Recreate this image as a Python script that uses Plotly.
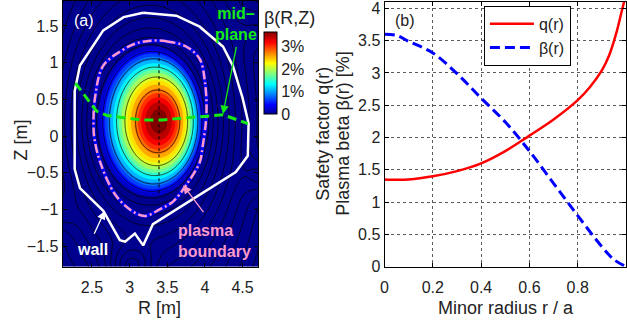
import numpy as np
import plotly.graph_objects as go

# ---------------- data ----------------
# right panel profiles
r_q = [0, 0.05, 0.1, 0.2, 0.3, 0.4, 0.5, 0.6, 0.7, 0.8, 0.85, 0.9, 0.93, 0.96, 0.98, 0.995]
q_vals = [1.35, 1.345, 1.35, 1.40, 1.48, 1.60, 1.79, 2.03, 2.28, 2.58, 2.78, 3.04, 3.27, 3.62, 3.92, 4.15]
r_beta = [0, 0.05, 0.1, 0.2, 0.3, 0.4, 0.5, 0.6, 0.7, 0.8, 0.9, 0.95, 1.0]
beta_vals = [3.60, 3.58, 3.49, 3.31, 2.99, 2.61, 2.24, 1.79, 1.29, 0.79, 0.31, 0.11, 0.0]

# left panel geometry (R, Z in m)
wall_R = [3.18, 3.62, 3.93, 4.24, 4.37, 4.50, 4.58, 4.57, 4.41, 3.80, 3.40, 3.31, 3.18, 3.07,
          2.94, 2.87, 2.65, 2.34, 2.27, 2.27, 2.34, 2.65, 2.92, 3.18]
wall_Z = [1.68, 1.64, 1.49, 1.22, 0.96, 0.52, 0.17, -0.27, -0.49, -0.88, -1.14, -1.20, -1.49, -1.33,
          -1.44, -1.42, -1.02, -0.71, -0.45, 0.61, 0.96, 1.44, 1.62, 1.68]
bnd_R = [3.28, 3.49, 3.75, 3.93, 4.00, 4.02, 3.97, 3.93, 3.75, 3.58, 3.40, 3.20, 3.03, 2.81,
         2.61, 2.53, 2.52, 2.54, 2.65, 2.92, 3.08, 3.28]
bnd_Z = [1.30, 1.29, 1.22, 1.05, 0.74, 0.30, -0.14, -0.36, -0.67, -0.89, -1.00, -1.09, -1.02, -0.80,
         -0.36, -0.02, 0.20, 0.52, 0.96, 1.18, 1.26, 1.30]
mid_R = [2.28, 2.56, 2.70, 3.14, 3.44, 3.97, 4.24, 4.57]
mid_Z = [0.72, 0.34, 0.28, 0.22, 0.22, 0.26, 0.29, 0.17]

# flux-surface model parameters (magnetic axis, boundary centre, minor radius, elongation)
R_AX, Z_AX = 3.39, 0.20
R_BC = 3.27
A_MIN = 0.76
KAPPA = 1.45
coils = [(3.02, -1.80, -0.70, 0.28), (4.80, -0.55, -0.50, 0.25), (4.82, 1.50, -0.40, 0.30),
         (2.02, -1.05, -0.35, 0.22)]

R_RANGE = [2.11, 4.71]
Z_RANGE = [-1.78, 1.84]

# ---------------- build the beta(R,Z) map from the beta(r) profile ----------------
Rg = np.linspace(R_RANGE[0], R_RANGE[1], 221)
Zg = np.linspace(Z_RANGE[0], Z_RANGE[1], 309)
RR, ZZ = np.meshgrid(Rg, Zg)


def f_ell(rho):
    rr = np.minimum(rho, 1.0)
    rc = R_AX + (R_BC - R_AX) * rr ** 2
    kap = KAPPA + 0.6 * np.maximum(rho - 1.0, 0.0)
    return ((RR - rc) / (A_MIN * rho)) ** 2 + ((ZZ - Z_AX) / (kap * A_MIN * rho)) ** 2 - 1.0


lo = np.full(RR.shape, 1e-4)
hi = np.full(RR.shape, 5.0)
for _ in range(45):
    mid = 0.5 * (lo + hi)
    out = f_ell(mid) > 0
    lo = np.where(out, mid, lo)
    hi = np.where(out, hi, mid)
rho = 0.5 * (lo + hi)

beta_map = np.where(rho <= 1.0, np.interp(rho, r_beta, beta_vals), 0.0)

psi = np.where(rho <= 1.0, rho ** 2, 1.0 + 2.0 * np.log(np.maximum(rho, 1e-6)))
outside_w = np.clip((rho - 1.0) / 0.15, 0, 1)
for (rc_, zc_, amp, sig) in coils:
    psi = psi + outside_w * amp * np.exp(-((RR - rc_) ** 2 + (ZZ - zc_) ** 2) / sig ** 2)

jet = [[0.0, 'rgb(0,0,143)'], [0.111, 'rgb(0,0,255)'], [0.365, 'rgb(0,255,255)'],
       [0.619, 'rgb(255,255,0)'], [0.873, 'rgb(255,0,0)'], [1.0, 'rgb(128,0,0)']]
CMAX = 3.65

FONT = 'Liberation Sans, Arial, Helvetica, sans-serif'
GREEN = 'rgb(20,235,20)'
PINK = '#FF99CC'

fig = go.Figure()

fig.add_trace(go.Contour(
    x=Rg, y=Zg, z=beta_map, xaxis='x', yaxis='y',
    colorscale=jet, zmin=0, zmax=CMAX, showscale=False,
    contours=dict(start=0.2, end=3.4, size=0.2, showlines=False, coloring='fill'),
    line=dict(width=0), hoverinfo='skip'))

fig.add_trace(go.Contour(
    x=Rg, y=Zg, z=psi, xaxis='x', yaxis='y',
    colorscale=[[0, 'black'], [1, 'black']], showscale=False,
    contours=dict(start=0.15, end=4.0, size=0.15, coloring='lines'),
    line=dict(width=0.7), hoverinfo='skip'))

# colorbar carrier
fig.add_trace(go.Scatter(
    x=[R_AX], y=[Z_AX], xaxis='x', yaxis='y', mode='markers', hoverinfo='skip', showlegend=False,
    marker=dict(size=1, opacity=0, color=[0], cmin=0, cmax=CMAX, colorscale=jet, showscale=True,
                colorbar=dict(x=262 / 627, xanchor='left', y=1 - 74.5 / 328, yanchor='middle',
                              len=85 / 328, lenmode='fraction', thickness=13, thicknessmode='pixels',
                              xpad=0, ypad=0, outlinecolor='black', outlinewidth=1,
                              tickvals=[0, 1, 2, 3], ticktext=['0', '1%', '2%', '3%'],
                              ticks='', tickfont=dict(size=16, color='#222', family=FONT)))))

# axis crosshair
fig.add_trace(go.Scatter(x=[R_AX, R_AX], y=[-0.78, 1.18], xaxis='x', yaxis='y', mode='lines',
                         line=dict(color='black', width=1, dash='dot'), showlegend=False, hoverinfo='skip'))

# wall
fig.add_trace(go.Scatter(x=wall_R, y=wall_Z, xaxis='x', yaxis='y', mode='lines',
                         line=dict(color='white', width=2.5), showlegend=False, hoverinfo='skip'))
# plasma boundary
fig.add_trace(go.Scatter(x=bnd_R, y=bnd_Z, xaxis='x', yaxis='y', mode='lines', line_shape='spline',
                         line=dict(color='rgb(0,0,255)', width=3.5), showlegend=False, hoverinfo='skip'))
fig.add_trace(go.Scatter(x=bnd_R, y=bnd_Z, xaxis='x', yaxis='y', mode='lines', line_shape='spline',
                         line=dict(color=PINK, width=2.5, dash='9px,3px,2px,3px'),
                         showlegend=False, hoverinfo='skip'))
# mid-plane
fig.add_trace(go.Scatter(x=mid_R, y=mid_Z, xaxis='x', yaxis='y', mode='lines',
                         line=dict(color=GREEN, width=3, dash='9px,5px'), showlegend=False, hoverinfo='skip'))

# right panel
fig.add_trace(go.Scatter(x=r_q, y=q_vals, xaxis='x2', yaxis='y2', mode='lines', name='q(r)',
                         line=dict(color='rgb(255,0,0)', width=2.5, shape='spline'), hoverinfo='skip'))
fig.add_trace(go.Scatter(x=r_beta, y=beta_vals, xaxis='x2', yaxis='y2', mode='lines', name='β(r)',
                         line=dict(color='rgb(0,0,255)', width=3, dash='10px,5px', shape='spline'),
                         hoverinfo='skip'))

axis_common = dict(showline=True, linecolor='black', linewidth=1, mirror='ticks', ticks='inside',
                   ticklen=4, tickcolor='black', tickfont=dict(size=16, color='#222', family=FONT),
                   zeroline=False)

fig.update_layout(
    width=627, height=328, margin=dict(l=0, r=0, t=0, b=0),
    paper_bgcolor='white', plot_bgcolor='white',
    font=dict(family=FONT, color='#222'),
    showlegend=True,
    legend=dict(x=483 / 627, y=1 - 5 / 328, xanchor='left', yanchor='top',
                bordercolor='black', borderwidth=1, bgcolor='white', itemwidth=44,
                font=dict(size=16, family=FONT, color='#222'), tracegroupgap=0),
    xaxis=dict(domain=[59 / 627, 256 / 627], range=R_RANGE, tickvals=[2.5, 3, 3.5, 4, 4.5],
               showgrid=False, anchor='y', ticklabelstandoff=6, **axis_common),
    yaxis=dict(domain=[54 / 328, 1.0], range=Z_RANGE, tickvals=[-1.5, -1, -0.5, 0, 0.5, 1, 1.5],
               showgrid=False, anchor='x', **axis_common),
    xaxis2=dict(domain=[383 / 627, 626 / 627], range=[0, 1], dtick=0.2, anchor='y2', ticklabelstandoff=6,
                showgrid=True, gridcolor='rgb(90,90,90)', griddash='dot', gridwidth=1, **axis_common),
    yaxis2=dict(domain=[54 / 328, 0.997], range=[0, 4.1], dtick=0.5, anchor='x2',
                showgrid=True, gridcolor='rgb(90,90,90)', griddash='dot', gridwidth=1, **axis_common),
)

C = dict(xanchor='center', yanchor='middle', showarrow=False)
ann = []
# axis titles
ann.append(dict(text='R [m]', x=157 / 627, y=1 - 317 / 328, xref='paper', yref='paper',
                font=dict(size=18), **C))
ann.append(dict(text='Z [m]', x=17 / 627, y=1 - 143 / 328, xref='paper', yref='paper', textangle=-90,
                font=dict(size=18), **C))
ann.append(dict(text='Minor radius r / a', x=505 / 627, y=1 - 317 / 328, xref='paper', yref='paper',
                font=dict(size=18), **C))
ann.append(dict(text='Safety factor q(r)', x=321 / 627, y=1 - 137 / 328, xref='paper', yref='paper',
                textangle=-90, font=dict(size=18), **C))
ann.append(dict(text='Plasma beta β(r) [%]', x=341 / 627, y=1 - 137 / 328, xref='paper', yref='paper',
                textangle=-90, font=dict(size=18), **C))
ann.append(dict(text='β(R,Z)', x=287 / 627, y=1 - 18 / 328, xref='paper', yref='paper',
                font=dict(size=18), **C))
# panel labels
ann.append(dict(text='(a)', x=2.39, y=1.58, xref='x', yref='y', font=dict(size=16, color='white'), **C))
ann.append(dict(text='(b)', x=0.0835, y=3.81, xref='x2', yref='y2', font=dict(size=16, color='#222'), **C))
# labels with arrows
ann.append(dict(text='<b>mid–</b><br><b>plane</b>', x=4.41, y=1.52, xref='x', yref='y',
                font=dict(size=16, color=GREEN), **C))
ann.append(dict(text=' ', x=4.24, y=0.30, ax=4.44, ay=1.33, xref='x', yref='y', axref='x', ayref='y',
                showarrow=True, arrowhead=2, arrowsize=1.3, arrowwidth=1.3, arrowcolor=GREEN))
ann.append(dict(text='<b>wall</b>', x=2.28, y=-1.55, xref='x', yref='y', xanchor='left', yanchor='middle',
                showarrow=False, font=dict(size=16, color='white')))
ann.append(dict(text=' ', x=2.67, y=-1.02, ax=2.49, ay=-1.42, xref='x', yref='y', axref='x', ayref='y',
                showarrow=True, arrowhead=2, arrowsize=1.3, arrowwidth=1.3, arrowcolor='white'))
ann.append(dict(text='<b>plasma</b><br><b>boundary</b>', x=3.62, y=-1.43, xref='x', yref='y',
                xanchor='left', yanchor='middle', align='left', showarrow=False,
                font=dict(size=16, color=PINK)))
ann.append(dict(text=' ', x=3.71, y=-0.67, ax=4.02, ay=-1.09, xref='x', yref='y', axref='x', ayref='y',
                showarrow=True, arrowhead=2, arrowsize=1.3, arrowwidth=1.3, arrowcolor=PINK))
fig.update_layout(annotations=ann)

fig.write_html('out.html')
